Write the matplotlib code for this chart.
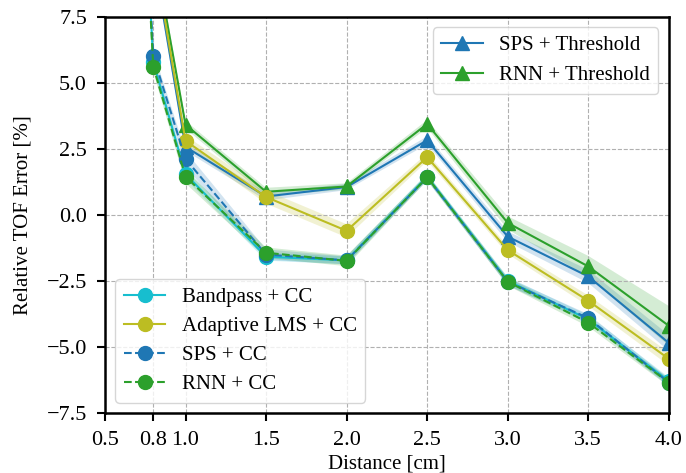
import numpy as np
import matplotlib
matplotlib.use("Agg")
import matplotlib.pyplot as plt

plt.rcParams['font.family'] = ['Liberation Serif', 'DejaVu Serif']
plt.rcParams['mathtext.fontset'] = 'stix'

# Sensor-to-target distance [cm]
distance = [0.5, 0.8, 1.0, 1.5, 2.0, 2.5, 3.0, 3.5, 4.0]

# Mean relative TOF error [%] per method
sps_thr = [40.0, 9.8, 2.58, 0.70, 1.06, 2.83, -0.82, -2.33, -4.85]
rnn_thr = [40.0, 10.2, 3.42, 0.88, 1.08, 3.45, -0.30, -1.95, -4.20]
bandpass_cc = [40.0, 5.80, 1.55, -1.58, -1.72, 1.45, -2.50, -3.95, -6.30]
lms_cc = [40.0, 10.0, 2.81, 0.68, -0.60, 2.19, -1.33, -3.25, -5.45]
sps_cc = [40.0, 6.02, 2.12, -1.50, -1.72, 1.42, -2.53, -3.91, -6.35]
rnn_cc = [40.0, 5.62, 1.45, -1.43, -1.74, 1.43, -2.53, -4.08, -6.35]

# Standard deviation of the error [%]
sps_thr_sd = [1.0, 0.3, 0.15, 0.15, 0.12, 0.15, 0.2, 0.25, 0.3]
rnn_thr_sd = [1.0, 0.3, 0.15, 0.15, 0.12, 0.15, 0.25, 0.4, 0.75]
bandpass_cc_sd = [1.0, 0.2, 0.2, 0.15, 0.15, 0.12, 0.15, 0.15, 0.15]
lms_cc_sd = [1.0, 0.3, 0.2, 0.25, 0.25, 0.15, 0.15, 0.2, 0.25]
sps_cc_sd = [1.0, 0.2, 0.3, 0.2, 0.15, 0.12, 0.15, 0.15, 0.15]
rnn_cc_sd = [1.0, 0.2, 0.25, 0.2, 0.2, 0.12, 0.15, 0.15, 0.15]

series = [
    ("SPS + Threshold", sps_thr, sps_thr_sd, "tab:blue", "^", "-"),
    ("RNN + Threshold", rnn_thr, rnn_thr_sd, "tab:green", "^", "-"),
    ("Bandpass + CC", bandpass_cc, bandpass_cc_sd, "tab:cyan", "o", "-"),
    ("Adaptive LMS + CC", lms_cc, lms_cc_sd, "tab:olive", "o", "-"),
    ("SPS + CC", sps_cc, sps_cc_sd, "tab:blue", "o", "--"),
    ("RNN + CC", rnn_cc, rnn_cc_sd, "tab:green", "o", "--"),
]

fig = plt.figure(figsize=(6.86, 4.73), dpi=100)
ax = fig.add_axes([0.153, 0.127, 0.822, 0.837])

x = np.array(distance)
handles = []
for label, mean, sd, color, marker, ls in series:
    m = np.array(mean)
    s = np.array(sd)
    ax.fill_between(x, m - s, m + s, color=color, alpha=0.2, linewidth=0)
    h, = ax.plot(x, m, color=color, marker=marker, linestyle=ls,
                 markersize=10, linewidth=1.5, label=label)
    handles.append(h)

ax.set_xlim(0.5, 4.0)
ax.set_ylim(-7.5, 7.5)
ax.set_xticks([0.5, 0.8, 1.0, 1.5, 2.0, 2.5, 3.0, 3.5, 4.0])
ax.set_yticks(np.arange(-7.5, 7.6, 2.5))
ax.grid(True, linestyle='--', color='#b0b0b0', linewidth=0.8)
ax.tick_params(labelsize=16, width=1.5, length=6, pad=7)
for sp in ax.spines.values():
    sp.set_linewidth(1.8)

ax.set_xlabel("Distance [cm]", fontsize=15, labelpad=3)
ax.set_ylabel("Relative TOF Error [%]", fontsize=15, labelpad=10)

leg1 = ax.legend(handles=handles[:2], loc='upper right', fontsize=15)
ax.add_artist(leg1)
ax.legend(handles=handles[2:], loc='lower left', fontsize=15,
          labelspacing=0.45)

fig.savefig("out.png", dpi=100)
